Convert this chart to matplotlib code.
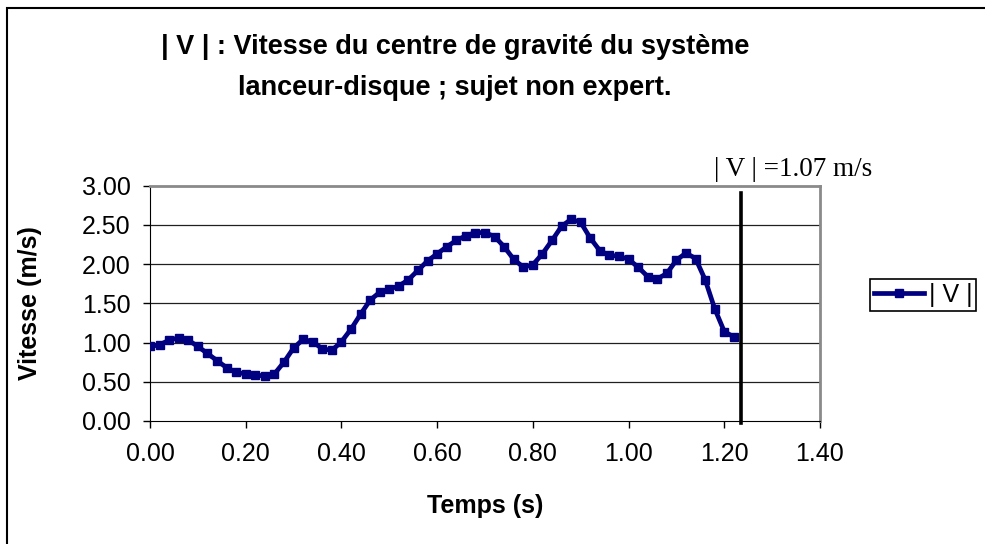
import matplotlib.pyplot as plt
import matplotlib.patches as mpatches

# temps (s) et |V| (m/s)
temps = [0.00, 0.02, 0.04, 0.06, 0.08, 0.10, 0.12, 0.14, 0.16, 0.18,
         0.20, 0.22, 0.24, 0.26, 0.28, 0.30, 0.32, 0.34, 0.36, 0.38,
         0.40, 0.42, 0.44, 0.46, 0.48, 0.50, 0.52, 0.54, 0.56, 0.58,
         0.60, 0.62, 0.64, 0.66, 0.68, 0.70, 0.72, 0.74, 0.76, 0.78,
         0.80, 0.82, 0.84, 0.86, 0.88, 0.90, 0.92, 0.94, 0.96, 0.98,
         1.00, 1.02, 1.04, 1.06, 1.08, 1.10, 1.12, 1.14, 1.16, 1.18,
         1.20, 1.22]
vitesse = [0.95, 0.97, 1.03, 1.06, 1.03, 0.95, 0.86, 0.77, 0.68, 0.62,
           0.60, 0.59, 0.57, 0.60, 0.75, 0.93, 1.04, 1.01, 0.92, 0.90,
           1.01, 1.17, 1.36, 1.54, 1.64, 1.68, 1.72, 1.80, 1.92, 2.04,
           2.13, 2.22, 2.30, 2.36, 2.40, 2.40, 2.35, 2.22, 2.06, 1.96,
           1.99, 2.13, 2.30, 2.48, 2.57, 2.53, 2.33, 2.17, 2.11, 2.10,
           2.06, 1.96, 1.84, 1.81, 1.88, 2.05, 2.14, 2.07, 1.80, 1.43,
           1.14, 1.07]
x_ticks = [0.0, 0.2, 0.4, 0.6, 0.8, 1.0, 1.2, 1.4]
y_ticks = [0.0, 0.5, 1.0, 1.5, 2.0, 2.5, 3.0]
t_fin = 1.235

W, H = 985, 544
fig = plt.figure(figsize=(W / 100, H / 100), dpi=100)
fig.set_facecolor('white')
ax = fig.add_axes([150 / W, 1 - 421 / H, 670 / W, 235.5 / H])

# lignes de grille horizontales
for v in y_ticks[1:-1]:
    ax.axhline(v, color='#202020', lw=0.9, zorder=1)

ax.plot(temps, vitesse, color='#000080', lw=3.4, marker='s', ms=6,
        label='| V |', zorder=3)

# trait vertical de fin
ax.plot([t_fin, t_fin], [-0.02, 2.91], color='black', lw=2.6,
        clip_on=False, zorder=4)
ax.text(t_fin + 0.108, 3.2, '| V | =1.07 m/s', ha='center', va='center',
        fontsize=19.5, family='Liberation Serif')

ax.set_xlim(0, 1.4)
ax.set_ylim(0, 3.0)
ax.set_xticks(x_ticks)
ax.set_yticks(y_ticks)
ax.set_xticklabels([f'{v:.2f}' for v in x_ticks])
ax.set_yticklabels([f'{v:.2f}' for v in y_ticks])
ax.tick_params(direction='out', length=5, width=1, labelsize=18,
               colors='black')
ax.tick_params(axis='x', pad=10)
ax.tick_params(axis='y', pad=9)
for t in ax.get_xticklabels() + ax.get_yticklabels():
    t.set_family('Liberation Sans')

ax.spines['left'].set_color('black')
ax.spines['bottom'].set_color('black')
for s in ['top', 'right']:
    ax.spines[s].set_color('#8a8a8a')
    ax.spines[s].set_linewidth(2)

# titres
fig.text(455 / W, 1 - 47 / H, '| V | : Vitesse du centre de gravité du système',
         ha='center', va='center', fontsize=19.5, fontweight='bold',
         family='Liberation Sans')
fig.text(455 / W, 1 - 88 / H, 'lanceur-disque ; sujet non expert.',
         ha='center', va='center', fontsize=19.5, fontweight='bold',
         family='Liberation Sans')
fig.text(30 / W, 1 - 303 / H, 'Vitesse (m/s)', rotation=90, ha='center',
         va='center', fontsize=18, fontweight='bold', family='Liberation Sans')
fig.text(485 / W, 1 - 506 / H, 'Temps (s)', ha='center', va='center',
         fontsize=18, fontweight='bold', family='Liberation Sans')

leg = fig.legend(loc='center left', bbox_to_anchor=(870 / W, 1 - 295 / H),
                 prop={'family': 'Liberation Sans', 'size': 18},
                 handlelength=2.0, handletextpad=0.2, borderpad=0.15,
                 borderaxespad=0, fancybox=False, framealpha=1)
leg.get_frame().set_edgecolor('black')
leg.get_frame().set_linewidth(1.2)

# cadre du graphique
cadre = mpatches.Rectangle((7 / W, -0.1), 1.2, 1.1 - 8 / H, fill=False,
                           edgecolor='black', lw=1.5,
                           transform=fig.transFigure, clip_on=False)
fig.patches.append(cadre)

fig.savefig('out.png', dpi=100)
